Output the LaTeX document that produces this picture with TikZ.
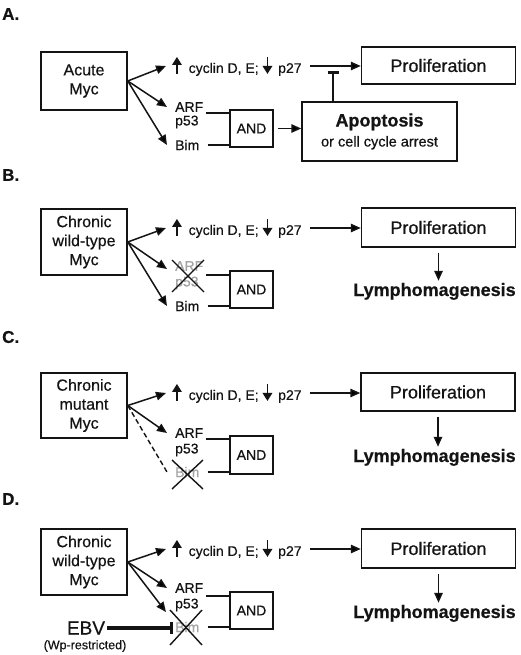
\documentclass[tikz,border=0pt]{standalone}
\usepackage{fontspec}
\setmainfont{Liberation Sans}[FakeBold=0.5]
\usetikzlibrary{arrows.meta}
\definecolor{ink}{HTML}{141414}
\definecolor{dimtext}{HTML}{A3A3A3}
\newcommand{\fsz}[2]{\fontsize{#1}{#2}\selectfont}
\newcommand{\uparr}{\tikz[baseline=0pt,x=1pt,y=1pt]{\draw[ink,line width=1.6pt,-{Triangle[length=8pt,width=9.5pt]}] (0pt,-1pt)--(0pt,16pt);}}
\newcommand{\downarr}{\tikz[baseline=0pt,x=1pt,y=1pt]{\draw[ink,line width=1.6pt,-{Triangle[length=8pt,width=9.5pt]}] (0pt,16pt)--(0pt,-1pt);}}
\tikzset{
  box/.style={draw=ink, line width=1.5pt, inner sep=0pt, align=center, text=ink},
  arr/.style={draw=ink, line width=1.5pt, -{Triangle[length=10pt,width=8.5pt]}},
  ln/.style={draw=ink, line width=1.4pt},
  inh/.style={draw=ink, line width=2.8pt, -{Bar[width=11pt]}},
  inhthick/.style={draw=ink, line width=4.2pt, -{Bar[width=12pt,line width=3.4pt]}},
  lbl/.style={anchor=west, inner xsep=8pt, inner ysep=1pt, font=\fsz{14}{16}, text=ink},
  cyc/.style={anchor=west, inner xsep=6pt, inner ysep=1pt, font=\fsz{14}{16}, text=ink},
  panel/.style={anchor=west, inner sep=0pt, font=\fsz{17}{20}\bfseries, text=ink},
  mycbox/.style={box, minimum width=86pt, font=\fsz{16}{19}},
  prolbox/.style={box, minimum width=154pt, font=\fsz{18}{20}},
  andbox/.style={box, minimum width=43pt, font=\fsz{14}{16}},
  lymph/.style={anchor=base, inner ysep=2pt, font=\fsz{18}{20}\bfseries, text=ink},
}
\begin{document}
\begin{tikzpicture}[x=1pt,y=-1pt]
\useasboundingbox (0,0) rectangle (520,655);
\fill[white] (0,0) rectangle (520,655);

% ---------------- Panel A ----------------
\node[panel] (labA) at (2,14) {A.};
\node[mycbox, minimum height=58pt] (mycA) at (84,81) {Acute\\Myc};
\node[cyc] (cycA) at (166,66) {\uparr\hspace{7pt}cyclin D, E;\hspace{4pt}\downarr\hspace{6pt}p27};
\node[prolbox, minimum height=37pt] (prolA) at (438.5,65.5) {Proliferation};
\node[lbl] (arfA) at (167,107) {ARF};
\node[lbl] (p53A) at (167,122) {p53};
\node[lbl] (bimA) at (167,145) {Bim};
\node[andbox, minimum height=37pt] (andA) at (251.5,128.5) {AND};
\node[box, minimum width=155pt, minimum height=59pt, font=\fsz{14.5}{20}] (apopA) at (379.5,131.5)
  {{\fsz{18}{20}\bfseries Apoptosis}\\or cell cycle arrest};
\coordinate (jA) at (206,113);
\coordinate (inhA) at (333,71);
\draw[arr] (mycA.east) -- (cycA.west);
\draw[arr] (mycA.east) -- (arfA.west);
\draw[arr] (mycA.east) -- (bimA.west);
\draw[arr, shorten <=2pt] (cycA.east) -- (cycA.east -| prolA.west);
\draw[ln] (jA) -- (jA -| andA.west);
\draw[ln] (bimA.east) -- (bimA.east -| andA.west);
\draw[arr, shorten <=4pt] (andA.east) -- (andA.east -| apopA.west);
\draw[inh] (apopA.north -| inhA) -- (inhA);

% ---------------- Panel B ----------------
\node[panel] (labB) at (2,175) {B.};
\node[mycbox, minimum height=66pt] (mycB) at (84,242) {Chronic\\wild-type\\Myc};
\node[cyc] (cycB) at (166,228) {\uparr\hspace{7pt}cyclin D, E;\hspace{4pt}\downarr\hspace{6pt}p27};
\node[prolbox, minimum height=39pt] (prolB) at (438.5,227.5) {Proliferation};
\node[lymph] (lymB) at (434.5,296) {Lymphomagenesis};
\node[lbl, text=dimtext] (arfB) at (167,266) {ARF};
\node[lbl, text=dimtext] (p53B) at (167,283) {p53};
\node[lbl] (bimB) at (167,306) {Bim};
\node[andbox, minimum height=37pt] (andB) at (251.5,289.5) {AND};
\coordinate (jB) at (206,275);
\coordinate (arfBtip) at (167,269);
\draw[arr] (mycB.east) -- (cycB.west);
\draw[arr] (mycB.east) -- (arfBtip);
\draw[arr] (mycB.east) -- (bimB.west);
\draw[arr, shorten <=2pt] (cycB.east) -- (cycB.east -| prolB.west);
\draw[arr, shorten <=5pt] (prolB.south) -- (prolB.south |- lymB.north);
\draw[ln] (jB) -- (jB -| andB.west);
\draw[ln] (bimB.east) -- (bimB.east -| andB.west);
\draw[ln] (172,260) -- (204,292);
\draw[ln] (204,260) -- (172,292);

% ---------------- Panel C ----------------
\node[panel] (labC) at (2,337) {C.};
\node[mycbox, minimum height=65pt] (mycC) at (84,405.5) {Chronic\\mutant\\Myc};
\node[cyc] (cycC) at (166,393) {\uparr\hspace{7pt}cyclin D, E;\hspace{4pt}\downarr\hspace{6pt}p27};
\node[prolbox, minimum height=38pt] (prolC) at (438,392) {Proliferation};
\node[lymph] (lymC) at (434.5,462) {Lymphomagenesis};
\node[lbl] (arfC) at (167,433) {ARF};
\node[lbl] (p53C) at (167,450) {p53};
\node[lbl, text=dimtext] (bimC) at (167,472) {Bim};
\node[andbox, minimum height=38pt] (andC) at (251.5,455) {AND};
\coordinate (jC) at (206,439);
\draw[arr] (mycC.east) -- (cycC.west);
\draw[arr] (mycC.east) -- (arfC.west);
\draw[ln, dash pattern=on 5pt off 3pt] (mycC.east) -- (bimC.west);
\draw[arr, shorten <=2pt] (cycC.east) -- (cycC.east -| prolC.west);
\draw[arr, shorten <=5pt] (prolC.south) -- (prolC.south |- lymC.north);
\draw[ln] (jC) -- (jC -| andC.west);
\draw[ln] (bimC.east) -- (bimC.east -| andC.west);
\draw[ln] (172,460) -- (203,489);
\draw[ln] (203,460) -- (172,489);

% ---------------- Panel D ----------------
\node[panel] (labD) at (2,499) {D.};
\node[mycbox, minimum height=66pt] (mycD) at (84,562) {Chronic\\wild-type\\Myc};
\node[cyc] (cycD) at (166,549) {\uparr\hspace{7pt}cyclin D, E;\hspace{4pt}\downarr\hspace{6pt}p27};
\node[prolbox, minimum height=39pt] (prolD) at (438.5,548.5) {Proliferation};
\node[lymph] (lymD) at (434.5,618) {Lymphomagenesis};
\node[lbl] (arfD) at (167,588) {ARF};
\node[lbl] (p53D) at (167,605) {p53};
\node[lbl, text=dimtext] (bimD) at (167,627) {Bim};
\node[andbox, minimum height=37pt] (andD) at (251.5,610.5) {AND};
\node[inner sep=2pt, font=\fsz{19}{21}, text=ink] (ebv) at (86,628) {EBV};
\node[inner sep=1pt, font=\fsz{12.5}{14}, text=ink] (wp) at (85,646) {(Wp-restricted)};
\coordinate (jD) at (206,596);
\coordinate (bimDtip) at (166,612);
\coordinate (ebvT) at (173,628);
\draw[arr] (mycD.east) -- (cycD.west);
\draw[arr] (mycD.east) -- (arfD.west);
\draw[arr] (mycD.east) -- (bimDtip);
\draw[arr, shorten <=2pt] (cycD.east) -- (cycD.east -| prolD.west);
\draw[arr, shorten <=5pt] (prolD.south) -- (prolD.south |- lymD.north);
\draw[ln] (jD) -- (jD -| andD.west);
\draw[ln] (bimD.east) -- (bimD.east -| andD.west);
\draw[ln] (170,610) -- (202,645);
\draw[ln] (202,610) -- (170,645);
\draw[inhthick] (ebv.east) -- (ebvT);
\end{tikzpicture}
\end{document}
